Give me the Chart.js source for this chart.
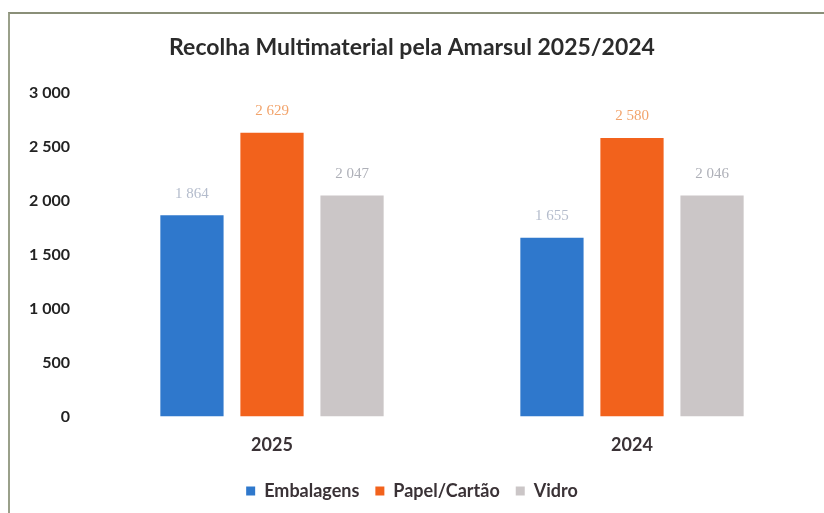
<!DOCTYPE html>
<html>
<head>
<meta charset="utf-8">
<script src="https://cdn.jsdelivr.net/npm/chart.js@4/dist/chart.umd.min.js"></script>
<style>
  html, body { margin: 0; padding: 0; background: #fff; }
  #moldura {
    position: absolute; left: 8px; top: 12px; width: 830px; height: 520px;
    border-top: 2px solid #8a8f78; border-left: 2px solid #9aa08a;
  }
  #caixa { position: absolute; left: 0; top: 0; width: 824px; height: 513px; }
</style>
</head>
<body>
<div id="moldura"></div>
<div id="caixa"><canvas id="grafico" width="824" height="513"></canvas></div>
<script>
// Dados
const anos = ['2025', '2024'];
const embalagens = [1864, 1655];
const papelCartao = [2629, 2580];
const vidro = [2047, 2046];
const ticksY = [0, 500, 1000, 1500, 2000, 2500, 3000];

// Formato com espaço nos milhares
function formatar(v) {
    return String(v).replace(/\B(?=(\d{3})+(?!\d))/g, ' ');
}

// Rótulos por cima das barras (cores muito claras como no original)
const rotulos = {
    id: 'rotulos',
    afterDatasetsDraw(chart) {
        const ctx = chart.ctx;
        ctx.save();
        ctx.font = '15px "Liberation Serif", serif';
        ctx.textAlign = 'center';
        ctx.textBaseline = 'bottom';
        chart.data.datasets.forEach((ds, i) => {
            chart.getDatasetMeta(i).data.forEach((bar, j) => {
                ctx.fillStyle = ds.corRotulo;
                ctx.fillText(formatar(ds.data[j]), bar.x, bar.y - 14);
            });
        });
        ctx.restore();
    }
};

new Chart(document.getElementById('grafico'), {
    type: 'bar',
    data: {
        labels: anos,
        datasets: [{
            label: 'Embalagens',
            data: embalagens,
            backgroundColor: '#2f78cc',
            corRotulo: '#b4bccc'
        }, {
            label: 'Papel/Cartão',
            data: papelCartao,
            backgroundColor: '#f2621c',
            corRotulo: '#f2a46c'
        }, {
            label: 'Vidro',
            data: vidro,
            backgroundColor: '#cbc6c7',
            corRotulo: '#aeb0b8'
        }]
    },
    options: {
        responsive: false,
        animation: false,
        layout: { padding: { left: 12, right: 12, top: 10, bottom: 3 } },
        datasets: { bar: { categoryPercentage: 0.667, barPercentage: 0.79 } },
        plugins: {
            title: {
                display: true,
                text: 'Recolha Multimaterial pela Amarsul 2025/2024',
                color: '#2b2b2b',
                font: { family: 'Lato', size: 23, weight: 'bold' },
                padding: { top: 24, bottom: 31 }
            },
            legend: {
                position: 'bottom',
                labels: {
                    boxWidth: 9, boxHeight: 9,
                    color: '#3a3236',
                    font: { family: 'Lato', size: 18, weight: 'bold' },
                    padding: 16
                }
            },
            tooltip: { enabled: false }
        },
        scales: {
            x: {
                grid: { display: false },
                border: { display: false },
                ticks: { color: '#3a3236', font: { family: 'Lato', size: 18, weight: 'bold' }, padding: 10 }
            },
            y: {
                min: 0, max: 3000,
                afterBuildTicks(axis) { axis.ticks = ticksY.map(v => ({ value: v })); },
                afterFit(axis) { axis.width = 80; },
                grid: { display: false },
                border: { display: false },
                ticks: {
                    color: '#222',
                    font: { family: 'Lato', size: 16, weight: 'bold' },
                    padding: 14,
                    callback: v => formatar(v)
                }
            }
        }
    },
    plugins: [rotulos]
});
</script>
</body>
</html>
